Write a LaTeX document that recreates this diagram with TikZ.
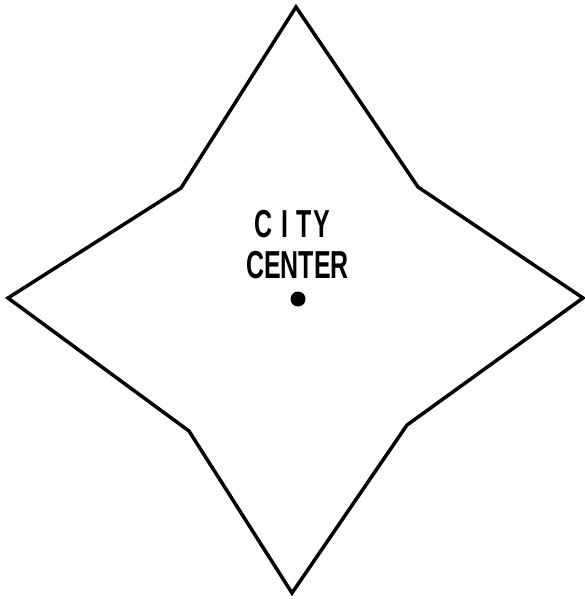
\documentclass[tikz,border=0pt]{standalone}
\usepackage{fontspec}
\setmainfont{Liberation Sans}
\begin{document}
\begin{tikzpicture}[x=1pt,y=-1pt,
  outline/.style={line width=3.5pt,line join=miter,black},
  label/.style={font=\bfseries\fontsize{39}{39}\selectfont,inner sep=0pt,anchor=base}]
\useasboundingbox (0,0) rectangle (585,599);
\draw[outline] (296,7) -- (418,187) -- (583,298) -- (407,425) -- (292,593)
  -- (189,431) -- (8,298) -- (181,188) -- cycle;
\node[label] (city) at (292,237) {\scalebox{0.64}[1]{C\hspace{14pt}I\hspace{13pt}T\hspace{2pt}Y}};
\node[label] (center) at (297.5,278) {\scalebox{0.64}[1]{CENTER}};
\fill (298,299) circle (7.5);
\end{tikzpicture}
\end{document}
